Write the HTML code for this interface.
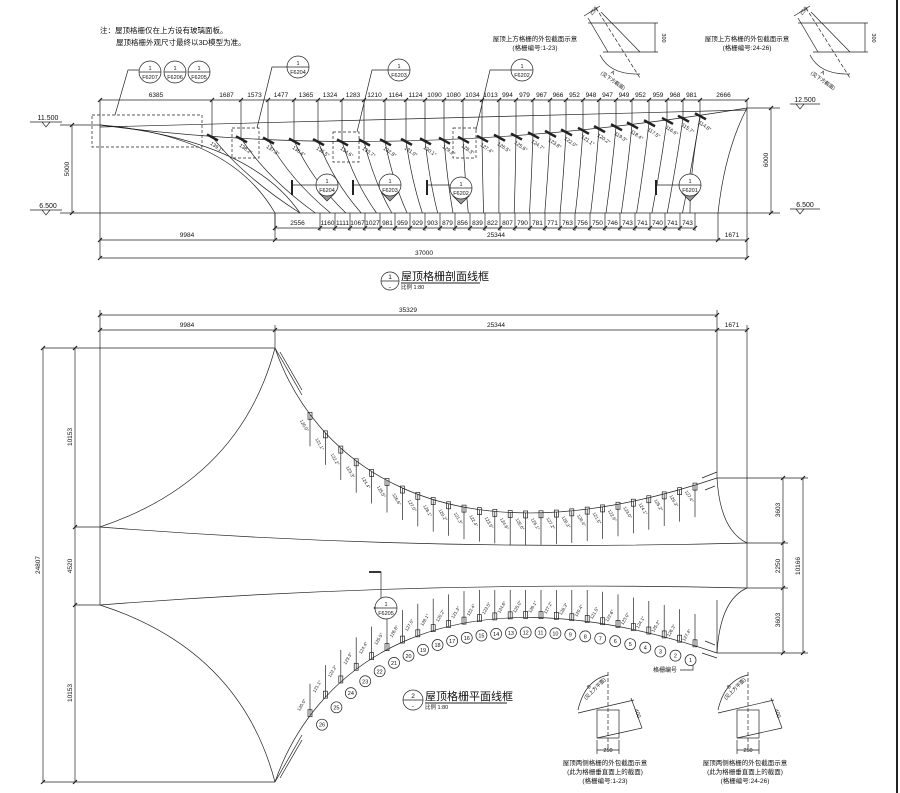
<!DOCTYPE html>
<html><head><meta charset="utf-8">
<style>
html,body{margin:0;padding:0;background:#fff;}
svg{display:block;font-family:"Liberation Sans","Noto Sans CJK SC",sans-serif;}
text{fill:#111;}
</style></head>
<body>
<svg id="s" width="900" height="793" viewBox="0 0 900 793" xmlns="http://www.w3.org/2000/svg">
<rect width="900" height="793" fill="#fff"/>
<line x1="897" y1="0" x2="897" y2="793" stroke="#222" stroke-width="2"/>
<g stroke="#222" stroke-width="0.7" fill="none" id="g">
<path d="M100 125 Q400 165 747 108"/>
<path d="M100 125 Q230 135 275 213"/>
<path d="M100 125 Q250 140 300 213"/>
<path d="M747 108 Q725 150 718 213"/>
<path d="M700 118 Q690 170 690 213"/>
<line x1="100" y1="213" x2="747" y2="213"/>
<line x1="60" y1="125" x2="100" y2="125"/>
<line x1="60" y1="213" x2="100" y2="213"/>
<line x1="72" y1="125" x2="72" y2="213"/>
<line x1="747" y1="108" x2="780" y2="108"/>
<line x1="747" y1="213" x2="780" y2="213"/>
<line x1="771" y1="108" x2="771" y2="213"/>
<line x1="100" y1="100" x2="747" y2="100"/>
<line x1="275" y1="228" x2="695" y2="228"/>
<line x1="100" y1="240" x2="747" y2="240"/>
<line x1="100" y1="258" x2="747" y2="258"/>
<line x1="100" y1="100" x2="100" y2="258"/>
<line x1="747" y1="100" x2="747" y2="258"/>
<line x1="275" y1="213" x2="275" y2="240"/>
<line x1="718" y1="213" x2="718" y2="240"/>
<rect x="92" y="115" width="110" height="32" stroke-dasharray="3,2"/>
<rect x="232" y="128" width="27" height="30" stroke-dasharray="3,2"/>
<rect x="333" y="132" width="26" height="30" stroke-dasharray="3,2"/>
<rect x="453" y="128" width="23" height="30" stroke-dasharray="3,2"/>
<path d="M115 115 L128 70 L139 70"/>
<path d="M257 128 L272 67 L287 67"/>
<path d="M357 132 L372 70 L388 70"/>
<path d="M476 130 L490 70 L511 70"/>
<path d="M292 185 L316 185"/>
<path d="M353 185 L379 185"/>
<path d="M427 185 L450 185"/>
<path d="M656 185 L679 185"/>
<line x1="100" y1="315" x2="717" y2="315"/>
<line x1="100" y1="330" x2="747" y2="330"/>
<line x1="100" y1="310" x2="100" y2="605"/>
<line x1="275" y1="325" x2="275" y2="348"/>
<line x1="717" y1="310" x2="717" y2="478"/>
<line x1="747" y1="325" x2="747" y2="588"/>
<line x1="43" y1="348" x2="275" y2="348"/>
<line x1="43" y1="782" x2="275" y2="782"/>
<line x1="43" y1="348" x2="43" y2="782"/>
<line x1="75" y1="348" x2="75" y2="782"/>
<line x1="75" y1="527" x2="100" y2="527"/>
<line x1="75" y1="605" x2="100" y2="605"/>
<path d="M100 527 Q240 480 275 348"/>
<path d="M100 605 Q240 650 275 782"/>
<path d="M275 348 C310 450 430 575 717 478"/>
<path d="M275 782 C310 680 430 555 717 653"/>
<path d="M100 527 Q420 552 747 543"/>
<path d="M100 605 Q420 580 747 588"/>
<line x1="275" y1="348" x2="302" y2="395"/><line x1="280" y1="352" x2="302" y2="390"/>
<line x1="275" y1="782" x2="302" y2="735"/><line x1="280" y1="778" x2="302" y2="740"/>
<path d="M717 478 Q720 530 747 543"/>
<path d="M747 588 Q720 600 717 653"/>
<line x1="717" y1="600" x2="717" y2="653"/>
<line x1="717" y1="478" x2="808" y2="478"/>
<line x1="717" y1="653" x2="808" y2="653"/>
<line x1="747" y1="543" x2="788" y2="543"/>
<line x1="747" y1="588" x2="788" y2="588"/>
<line x1="783" y1="478" x2="783" y2="653"/>
<line x1="803" y1="478" x2="803" y2="653"/>
<path d="M702 478 L717 472 M705 490 L715 486"/>
<path d="M702 653 L717 658 M705 641 L715 645"/>
<path d="M369 572 L381 572 L381 598"/>
<path d="M693 660 L693 670 L680 670"/>
<g id="d1">
<line x1="588" y1="23" x2="658" y2="23"/>
<line x1="603" y1="52" x2="658" y2="52"/>
<line x1="655" y1="23" x2="655" y2="52"/>
<line x1="588" y1="18" x2="608" y2="52"/>
<line x1="601" y1="12" x2="640" y2="52"/>
<line x1="596" y1="8" x2="640" y2="78" stroke-dasharray="4,2"/>
<line x1="584" y1="16" x2="600" y2="6"/>
<path d="M600 55 Q610 75 640 74"/>
</g>
<use href="#d1" x="210" y="0"/>
<g id="d2">
<rect x="597" y="710" width="22" height="28"/>
<line x1="578" y1="713" x2="634" y2="700"/>
<line x1="597" y1="738" x2="642" y2="728"/>
<line x1="631" y1="698" x2="642" y2="728"/>
<line x1="608" y1="672" x2="608" y2="748" stroke-dasharray="4,2"/>
<line x1="597" y1="740" x2="597" y2="754"/>
<line x1="619" y1="740" x2="619" y2="754"/>
<line x1="597" y1="750" x2="619" y2="750"/>
<path d="M578 710 Q585 680 608 675"/>
</g>
<use href="#d2" x="140" y="0"/>
</g>
<g id="t" font-size="6.5"></g>
</svg>
<script>
var NS="http://www.w3.org/2000/svg",G=document.getElementById('g'),T=document.getElementById('t');
function el(p,n,a,txt){var e=document.createElementNS(NS,n);for(var k in a)e.setAttribute(k,a[k]);if(txt!=null)e.textContent=txt;p.appendChild(e);return e;}
function ln(x1,y1,x2,y2,w,d){var a={x1:x1,y1:y1,x2:x2,y2:y2};if(w)a['stroke-width']=w;if(d)a['stroke-dasharray']=d;el(G,'line',a);}
function tx(x,y,t,sz,anc,rot,wt){var a={x:x,y:y,'font-size':sz||6.5,'text-anchor':anc||'middle'};if(rot)a.transform='rotate('+rot+' '+x+' '+y+')';if(wt)a['font-weight']=wt;el(T,'text',a,t);}
function tick(x,y){ln(x-2,y+2,x+2,y-2,1.2);}
function circ(cx,cy,r,a,b,sz){el(G,'circle',{cx:cx,cy:cy,r:r,fill:'#fff'});ln(cx-r,cy,cx+r,cy);tx(cx,cy-2,a,sz||6);tx(cx,cy+7,b,sz||6);}
function ry(x){var a=100,b=400,c=747,A=a-2*b+c,B=2*(b-a),C=a-x;var t=(-B+Math.sqrt(B*B-4*A*C))/(2*A);return (1-t)*(1-t)*125+2*t*(1-t)*165+t*t*108;}
var up=[100,212,241,268,294,318,342,364,385,406,425,444,463,482,499,516,533,550,566,583,599,616,632,649,667,683,700,747];
var upl=['6385','1687','1573','1477','1365','1324','1283','1210','1164','1124','1090','1080','1034','1013','994','979','967','966','952','948','947','949','952','959','968','981','2666'];
for(var i=0;i<up.length;i++){tick(up[i],100);if(i<upl.length)tx((up[i]+up[i+1])/2,97,upl[i]);}
for(var i=1;i<up.length-1;i++){var y=ry(up[i]);ln(up[i],100,up[i],y);
 var bx=300+15.3*(i-1);el(G,'path',{d:'M'+up[i]+' '+y+' Q'+(up[i]+(bx-up[i])*0.35)+' '+(y+40)+' '+bx+' 213'});
 ln(up[i]-5,y-2,up[i]+6,y+4,2.5);tx(up[i]+4,y+12,'1'+(40-i)+'.'+(i%9)+'°',5,'middle',35);}
ln(100,127,747,110);
var lo=[275,320],lol=['2556','1160','1111','1067','1027','981','959','929','903','879','856','839','822','807','790','781','771','763','756','750','746','743','741','740','741','743'];
for(var i=1;i<26;i++)lo.push(320+15*i);
for(var i=0;i<lo.length;i++){tick(lo[i],228);ln(lo[i],213,lo[i],231);if(i<lol.length&&lo[i+1])tx((lo[i]+lo[i+1])/2,225,lol[i]);}
[100,275,718,747].forEach(function(x){tick(x,240);});tick(100,258);tick(747,258);tick(72,125);tick(72,213);tick(771,108);tick(771,213);
tx(187,237,'9984');tx(496,237,'25344');tx(732,237,'1671');tx(424,255,'37000');
tx(69,169,'5000',6.5,'middle',-90);tx(768,160,'6000',6.5,'middle',-90);
tx(48,120,'11.500',7);ln(30,122,62,122);el(G,'path',{d:'M42 122 L46 127 L50 122'});
tx(48,208,'6.500',7);ln(30,210,62,210);el(G,'path',{d:'M42 210 L46 215 L50 210'});
tx(805,102,'12.500',7);ln(790,104,820,104);el(G,'path',{d:'M796 104 L800 109 L804 104'});
tx(805,207,'6.500',7);ln(790,209,820,209);el(G,'path',{d:'M796 209 L800 214 L804 209'});
[292,353,427,656].forEach(function(x){ln(x,180,x,195,2);});
circ(150,72,11,'1','F6207',5.5);circ(175,72,11,'1','F6206',5.5);circ(199,72,11,'1','F6205',5.5);
circ(298,67,11,'1','F6204',5.5);circ(399,70,11,'1','F6203',5.5);circ(522,70,11,'1','F6202',5.5);
[[327,185,'F6204'],[390,185,'F6203'],[461,188,'F6202'],[690,185,'F6201']].forEach(function(c){el(G,'path',{d:'M'+(c[0]-8)+' '+(c[1]+8)+' L'+c[0]+' '+(c[1]+16)+' L'+(c[0]+8)+' '+(c[1]+8)+'Z',fill:'#999'});circ(c[0],c[1],11,'1',c[2],5.5);});
tx(100,33,'注：屋顶格栅仅在上方设有玻璃面板。',7.5,'start');tx(116,45,'屋顶格栅外观尺寸最终以3D模型为准。',7.5,'start');
tx(535,41,'屋顶上方格栅的外包截面示意',6.5);tx(535,50,'(格栅编号:1-23)',6.5);
tx(747,41,'屋顶上方格栅的外包截面示意',6.5);tx(747,50,'(格栅编号:24-26)',6.5);
[0,210].forEach(function(d){tx(595+d,12,'250',5.5,'middle',-50);tx(662+d,38,'300',5.5,'middle',90);tx(612+d,74,'A',5.5,'middle',30);tx(612+d,82,'(见下方截面)',5,'middle',35);});
el(G,'circle',{cx:390,cy:281,r:9});ln(381,281,399,281);tx(390,279,'1',6.5);tx(390,289,'-',6.5);
tx(401,280,'屋顶格栅剖面线框',11,'start');ln(401,283,480,283,1);tx(401,289,'比例 1:80',5.5,'start');
[100,717].forEach(function(x){tick(x,315);});[100,275,717,747].forEach(function(x){tick(x,330);});
tx(408,312,'35329');tx(187,327,'9984');tx(496,327,'25344');tx(732,327,'1671');
[348,527,605,782].forEach(function(y){tick(75,y);});tick(43,348);tick(43,782);
tx(40,565,'24807',6.5,'middle',-90);tx(72,437,'10153',6.5,'middle',-90);tx(72,566,'4520',6.5,'middle',-90);tx(72,693,'10153',6.5,'middle',-90);
[478,543,588,653].forEach(function(y){tick(783,y);});tick(803,478);tick(803,653);
tx(780,510,'3603',6.5,'middle',-90);tx(780,566,'2250',6.5,'middle',-90);tx(780,620,'3603',6.5,'middle',-90);tx(800,566,'10166',6.5,'middle',-90);
function cb(p,t){var u=1-t;return [u*u*u*p[0]+3*u*u*t*p[2]+3*u*t*t*p[4]+t*t*t*p[6],u*u*u*p[1]+3*u*u*t*p[3]+3*u*t*t*p[5]+t*t*t*p[7]];}
function tAt(p,x){var a=0,b=1;for(var k=0;k<40;k++){var m=(a+b)/2;if(cb(p,m)[0]<x)a=m;else b=m;}return (a+b)/2;}
var TA=[275,348,310,450,430,575,717,478],BA=[275,782,310,680,430,555,717,653];
for(var i=0;i<26;i++){var x=310+i*15.4;
 var t=tAt(TA,x),p=cb(TA,t);ln(p[0],p[1],p[0],Math.min(p[1]+32,545));el(G,'rect',{x:p[0]-2,y:p[1]-2,width:4,height:7});
 tx(p[0]-7,p[1]+12,'1'+(20+i%9)+'.'+i%7+'°',4.5,'middle',60);
 var t2=tAt(BA,x),q=cb(BA,t2);ln(q[0],q[1],q[0],Math.max(q[1]-32,590));el(G,'rect',{x:q[0]-2,y:q[1]-6,width:4,height:7});
 tx(q[0]-7,q[1]-10,'1'+(20+i%9)+'.'+i%7+'°',4.5,'middle',-60);
 var a=cb(BA,t2-0.003),b=cb(BA,t2+0.003),dx=b[0]-a[0],dy=b[1]-a[1],L=Math.hypot(dx,dy),nx=-dy/L,ny=dx/L;
 if(ny<0){nx=-nx;ny=-ny;}
 el(G,'circle',{cx:q[0]+nx*15,cy:q[1]+ny*15,r:5.5,fill:'#fff'});tx(q[0]+nx*15,q[1]+ny*15+2,String(26-i),5.5);}
el(G,'path',{d:'M374 608 L381 600 L381 616Z',fill:'#999'});circ(386,608,11,'1','F6205',5.5);ln(369,572,381,572,1.8);
tx(665,672,'格栅编号',6);
el(G,'circle',{cx:413,cy:700,r:10});ln(403,700,423,700);tx(413,698,'2',6.5);tx(413,708,'-',6.5);
tx(425,700,'屋顶格栅平面线框',11,'start');ln(425,703,507,703,1);tx(425,709,'比例 1:80',5.5,'start');
[0,140].forEach(function(d){tx(608+d,752,'250',5.5);tx(636+d,714,'400',5.5,'middle',70);tx(590+d,688,'B',5,'middle',-45);tx(596+d,690,'(见上方平面)',5,'middle',-45);
 tx(605+d,765,'屋顶两侧格栅的外包截面示意',6.5);tx(605+d,774,'(此为格栅垂直面上的截面)',6.5);tx(605+d,783,(d?'(格栅编号:24-26)':'(格栅编号:1-23)'),6.5);});
</script>
</body></html>
